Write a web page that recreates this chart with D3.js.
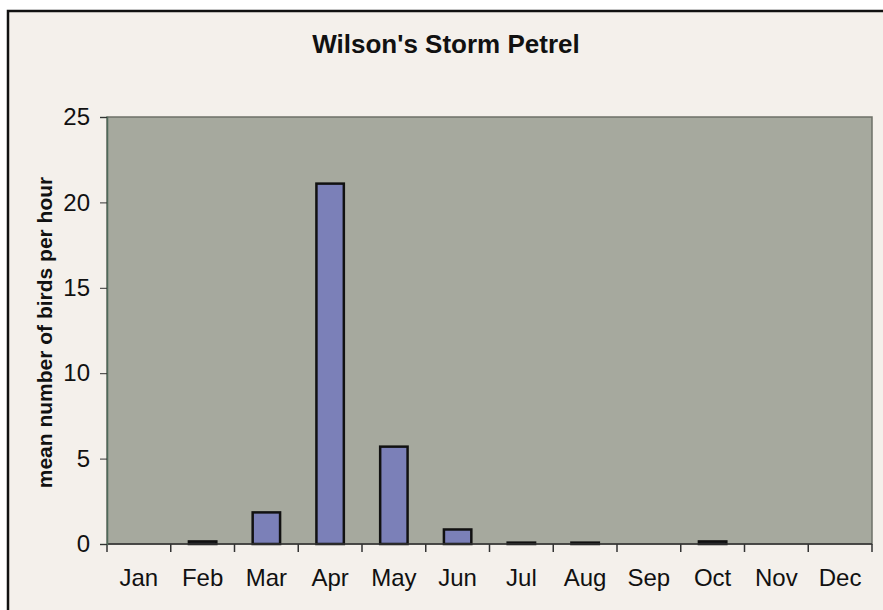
<!DOCTYPE html>
<html>
<head>
<meta charset="utf-8">
<script src="https://cdn.jsdelivr.net/npm/d3@7"></script>
<style>
    body { margin: 0; background: #ffffff; }
    svg { display: block; font-family: "Liberation Sans", Arial, sans-serif; }
</style>
</head>
<body>
<svg id="svg" width="883" height="610"></svg>
<script>
// month names along the x axis
var months = ["Jan", "Feb", "Mar", "Apr", "May", "Jun", "Jul", "Aug", "Sep", "Oct", "Nov", "Dec"];
// mean number of birds per hour
var birdsPerHour = [0, 0.15, 1.85, 21.1, 5.7, 0.85, 0.08, 0.08, 0, 0.15, 0, 0];
var yTicks = [0, 5, 10, 15, 20, 25];
var chartTitle = "Wilson's Storm Petrel";
var yLabel = "mean number of birds per hour";

var svg = d3.select("svg"),
    margin = {top: 117, right: 11, bottom: 66, left: 107},
    width = 883 - margin.left - margin.right,
    height = 610 - margin.top - margin.bottom;

// outer frame of the chart
svg.append("rect")
    .attr("x", 8)
    .attr("y", 11)
    .attr("width", 890)
    .attr("height", 620)
    .attr("fill", "#f4f0eb")
    .attr("stroke", "#111")
    .attr("stroke-width", 2.5);

// title
svg.append("text")
    .attr("x", 446)
    .attr("y", 53)
    .attr("text-anchor", "middle")
    .style("font-size", "26px")
    .style("font-weight", "bold")
    .attr("fill", "#111")
    .text(chartTitle);

var g = svg.append("g").attr("transform", "translate(" + margin.left + "," + margin.top + ")");

var x = d3.scaleBand()
    .domain(months)
    .range([0, width])
    .paddingInner(0.57)
    .paddingOuter(0.285);

var y = d3.scaleLinear()
    .domain([0, 25])
    .range([height, 0]);

// plot area
g.append("rect")
    .attr("width", width)
    .attr("height", height)
    .attr("fill", "#a6a99e")
    .attr("stroke", "#6d7068")
    .attr("stroke-width", 1.5);

// bars
g.selectAll(".bar")
    .data(birdsPerHour)
    .enter().append("rect")
    .attr("class", "bar")
    .attr("x", function (d, i) { return x(months[i]); })
    .attr("y", function (d) { return y(d); })
    .attr("width", x.bandwidth())
    .attr("height", function (d) { return height - y(d); })
    .attr("fill", "#7b80b8")
    .attr("stroke", "#111")
    .attr("stroke-width", function (d) { return d > 0 ? 2.5 : 0; });

// x axis: ticks between the months
var step = width / months.length;
var xAxis = g.append("g")
    .attr("transform", "translate(0," + height + ")");
xAxis.append("line")
    .attr("x1", 0).attr("x2", width)
    .attr("stroke", "#333").attr("stroke-width", 1.5);
xAxis.selectAll(".tick")
    .data(d3.range(months.length + 1))
    .enter().append("line")
    .attr("x1", function (d) { return d * step; })
    .attr("x2", function (d) { return d * step; })
    .attr("y1", 0).attr("y2", 8)
    .attr("stroke", "#333").attr("stroke-width", 1.5);
xAxis.selectAll(".label")
    .data(months)
    .enter().append("text")
    .attr("x", function (d) { return x(d) + x.bandwidth() / 2; })
    .attr("y", 42)
    .attr("text-anchor", "middle")
    .style("font-size", "24px")
    .attr("fill", "#111")
    .text(function (d) { return d; });

// y axis
var yAxis = g.append("g")
    .call(d3.axisLeft(y).tickValues(yTicks).tickSize(7).tickPadding(10));
yAxis.select(".domain").attr("stroke", "#4f6a5a").attr("stroke-width", 1.5);
yAxis.selectAll(".tick line").attr("stroke", "#333");
yAxis.selectAll(".tick text")
    .style("font-size", "24px")
    .attr("fill", "#111");

// y axis title
svg.append("text")
    .attr("transform", "translate(52," + (margin.top + height / 2 + 2) + ") rotate(-90)")
    .attr("text-anchor", "middle")
    .style("font-size", "21px")
    .style("font-weight", "bold")
    .attr("fill", "#111")
    .text(yLabel);
</script>
</body>
</html>
